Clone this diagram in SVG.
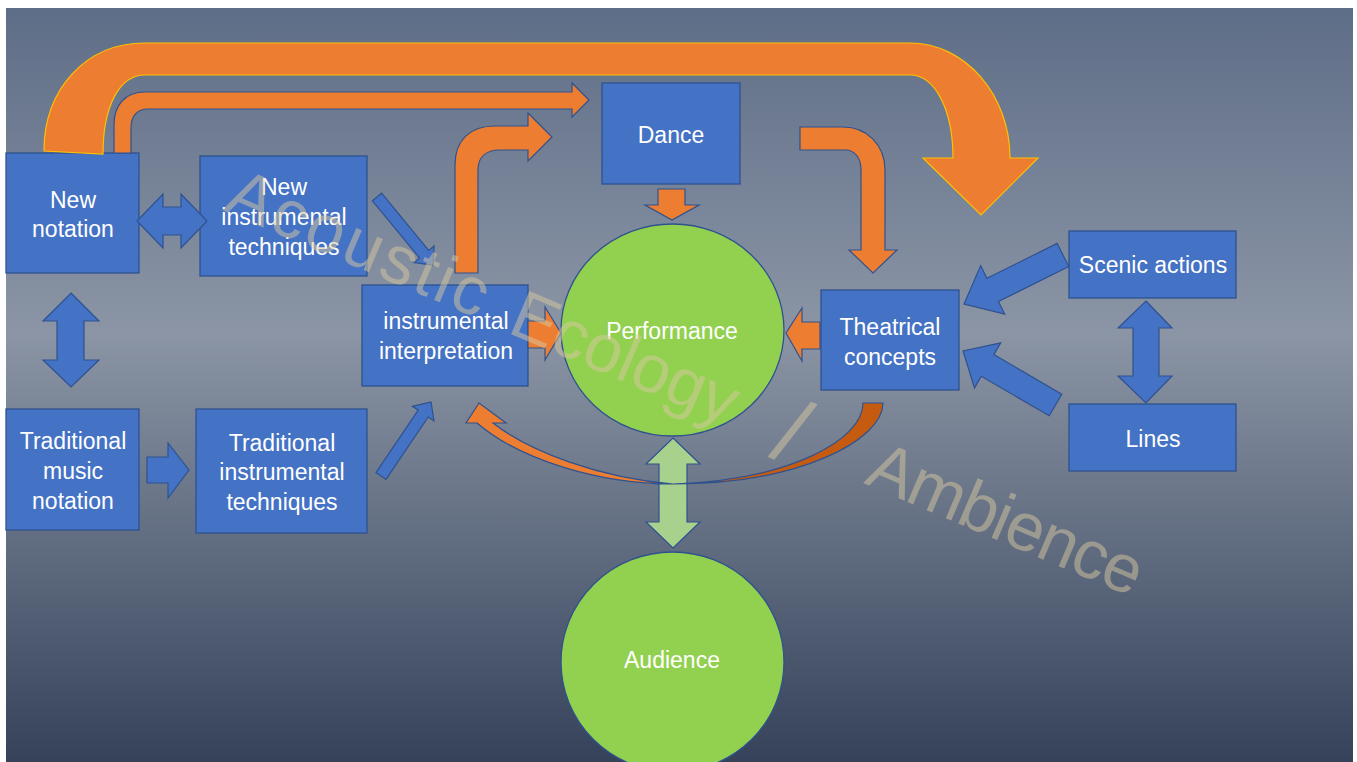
<svg xmlns="http://www.w3.org/2000/svg" width="1357" height="762" viewBox="0 0 1357 762">
<defs>
<linearGradient id="bg" x1="0" y1="8" x2="0" y2="762" gradientUnits="userSpaceOnUse">
<stop offset="0" stop-color="#5e6d87"/>
<stop offset="0.43" stop-color="#8b95a5"/>
<stop offset="1" stop-color="#35425a"/>
</linearGradient>
<style>
.box{fill:#4472c4;stroke:#2f528f;stroke-width:1.3}
.circ{fill:#92d050;stroke:#2f528f;stroke-width:1.3}
.lbl{font-family:"Liberation Sans",Arial,sans-serif;font-size:23px;fill:#ffffff;text-anchor:middle}
.ba{fill:#4472c4;stroke:#2f528f;stroke-width:1.2}
.oa{fill:#ed7d31;stroke:#2f528f;stroke-width:1.2}
.oy{fill:#ed7d31;stroke:#ffc000;stroke-width:1.2}
.od{fill:#c55a11;stroke:#2f528f;stroke-width:1.2}
.ga{fill:#a9d18e;stroke:#2f528f;stroke-width:1.2}
.wm{font-family:"Liberation Sans",Arial,sans-serif;font-size:68px;fill:#d8c9a0;opacity:0.5}
</style>
</defs>
<rect x="0" y="0" width="1357" height="762" fill="#ffffff"/>
<rect x="6" y="8" width="1347" height="754" fill="url(#bg)"/>

<g id="nodes">
<g id="new-notation"><rect class="box" x="6" y="153" width="133" height="120"/><text class="lbl" x="73" y="208">New</text><text class="lbl" x="73" y="237">notation</text></g>
<g id="new-instrumental-techniques"><rect class="box" x="200" y="156" width="167" height="120"/><text class="lbl" x="284" y="195">New</text><text class="lbl" x="284" y="225">instrumental</text><text class="lbl" x="284" y="255">techniques</text></g>
<g id="traditional-music-notation"><rect class="box" x="6" y="409" width="133" height="121"/><text class="lbl" x="73" y="449">Traditional</text><text class="lbl" x="73" y="479">music</text><text class="lbl" x="73" y="509">notation</text></g>
<g id="traditional-instrumental-techniques"><rect class="box" x="196" y="409" width="171" height="124"/><text class="lbl" x="282" y="451">Traditional</text><text class="lbl" x="282" y="480">instrumental</text><text class="lbl" x="282" y="510">techniques</text></g>
<g id="instrumental-interpretation"><rect class="box" x="362" y="285" width="166" height="101"/><text class="lbl" x="446" y="329">instrumental</text><text class="lbl" x="446" y="359">interpretation</text></g>
<g id="dance"><rect class="box" x="602" y="83" width="138" height="101"/><text class="lbl" x="671" y="143">Dance</text></g>
<g id="performance"><ellipse class="circ" cx="672.5" cy="330" rx="111.5" ry="106"/><text class="lbl" x="672" y="339">Performance</text></g>
<g id="audience"><ellipse class="circ" cx="672.5" cy="662" rx="111.5" ry="110"/><text class="lbl" x="672" y="668">Audience</text></g>
<g id="theatrical-concepts"><rect class="box" x="821" y="290" width="138" height="100"/><text class="lbl" x="890" y="335">Theatrical</text><text class="lbl" x="890" y="365">concepts</text></g>
<g id="scenic-actions"><rect class="box" x="1069" y="231" width="167" height="67"/><text class="lbl" x="1153" y="273">Scenic actions</text></g>
<g id="lines"><rect class="box" x="1069" y="404" width="167" height="67"/><text class="lbl" x="1153" y="447">Lines</text></g>
</g>

<g id="connectors">
<path class="oy" d="M44,151 C44,90 85,43 145,43 L910,43 C965,43 1010,95 1010,158 L1038,158 L981,215 L923,158 L953,158 C953,110 935,75 910,75 L145,75 C120,75 103,105 103,154 Z"/>
<path class="oa" d="M114,153 L114,125 C114,105 125,92 145,92 L572,92 L572,83 L589,100 L572,117 L572,109 L148,109 C138,109 131,115 131,128 L131,153 Z"/>
<path class="oa" d="M455,273 L455,165 C455,140 470,126 495,126 L528,126 L528,113 L552,137 L528,161 L528,150 L500,150 C486,150 478,157 478,170 L478,273 Z"/>
<path class="oa" d="M800,127 L843,127 C867,127 885,145 885,170 L885,250 L897,250 L873,273 L849,250 L861,250 L861,170 C861,158 855,150 845,150 L800,150 Z"/>
<polygon class="oa" points="658,189 685,189 685,205 699,205 672,220 645,205 658,205"/>
<polygon class="oa" points="528,321 545,321 545,307 561,333 545,360 545,348 528,348"/>
<polygon class="oa" points="820,322 802,322 802,308 786,333 802,361 802,349 820,349"/>
<polygon class="ba" points="137,221 163,194 163,207 181,207 181,194 207,221 181,248 181,235 163,235 163,248"/>
<polygon class="ba" points="71,293 99,321 84,321 84,360 99,360 71,387 43,360 57,360 57,321 43,321"/>
<polygon class="ba" points="147,457 168,457 168,443 189,470 168,498 168,483 147,483"/>
<polygon class="ba" points="381.6,193.2 428.7,250.4 434.1,245.9 433,265 414.1,262.5 419.5,258 372.4,200.8"/>
<polygon class="ba" points="386,479.4 428.2,417 434,420.9 431,402 412.4,406.3 418.2,410.2 376,472.6"/>
<polygon class="ba" points="1057.2,243.4 986.9,278.2 980.7,265.6 964,304 1004.7,314 998.5,301.4 1068.8,266.6"/>
<polygon class="ba" points="1061.8,394.2 993.9,354.6 1000.7,342.9 963,351 974.5,387.9 981.3,376.2 1049.2,415.8"/>
<polygon class="ba" points="1146,301 1172,328 1159,328 1159,376 1172,376 1146,403 1118,376 1133,376 1133,328 1118,328"/>
<polygon class="ga" points="673,438 700,464 687,464 687,522 700,522 673,548 646,522 659,522 659,464 646,464"/>
<path class="od" d="M863,403 L883,403 C883,440 800,484 673,484 C790,480 863,440 863,403 Z"/>
<path class="oa" d="M673,484 C600,484 520,460 477,423 L466,423 L479,403 L506,423 L493,423 C530,452 600,478 673,484 Z"/>
</g>

<g id="watermark">
<text class="wm" transform="translate(222,210) rotate(23)" textLength="278" lengthAdjust="spacing">Acoustic</text>
<text class="wm" transform="translate(506,332) rotate(23)" textLength="240" lengthAdjust="spacing">Ecology</text>
<text class="wm" transform="translate(768,456) rotate(23)" style="font-size:92px">/</text>
<text class="wm" transform="translate(863,483) rotate(23)" textLength="292" lengthAdjust="spacing">Ambience</text>
</g>
</svg>
